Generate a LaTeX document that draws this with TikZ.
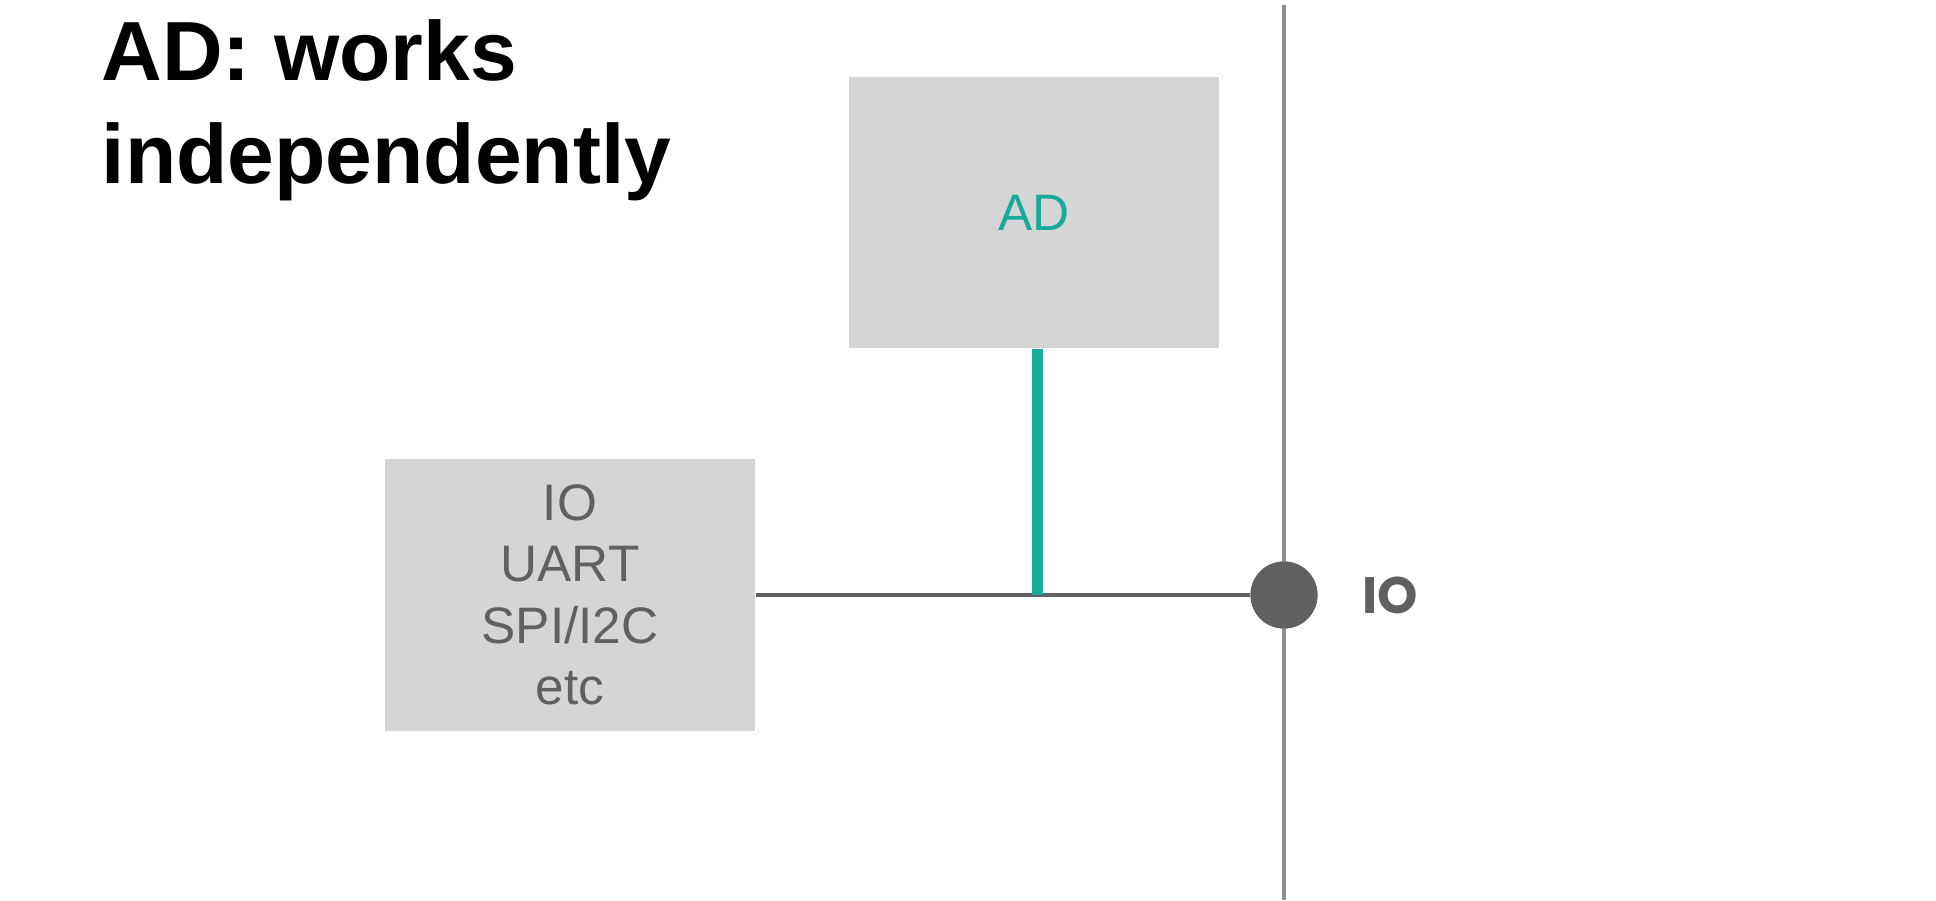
\documentclass[tikz,border=0pt]{standalone}
\usepackage{xcolor}
\usepackage{fontspec}
\setmainfont{Liberation Sans}
\newfontfamily\pinfont{Poppins}
\usetikzlibrary{positioning}
\definecolor{boxgray}{RGB}{213,213,213}
\definecolor{textgray}{RGB}{96,96,96}
\definecolor{busgray}{RGB}{143,143,143}
\definecolor{adteal}{RGB}{24,170,155}

\begin{document}
\begin{tikzpicture}[
  title/.style={anchor=base west, inner sep=0pt, font=\fontsize{23.9}{29.6}\selectfont\bfseries},
  block/.style={fill=boxgray, minimum width=3.7cm, minimum height=2.71cm, inner sep=0pt, align=center, font=\fontsize{14.6}{17.5}\selectfont},
  pin/.style={circle, fill=textgray, minimum size=0.67cm, inner sep=0pt},
  signal/.style={draw=textgray, line width=1.1pt},
  analog/.style={draw=adteal, line width=3.1pt},
  bus/.style={draw=busgray, line width=1.1pt}
]
\useasboundingbox (0,0) rectangle (19.36,9);
\node[title] (title1) at (1.01,8.19) {AD: works};
\node[title] (title2) at (1.01,7.16) {independently};
\node[block, text=adteal] (adbox) at (10.34,6.875) {AD};
\node[block, text=textgray] (iobox) at (5.70,3.05) {IO\\UART\\SPI/I2C\\etc};
\coordinate (bustop) at (12.84,8.95);
\coordinate (busbot) at (12.84,0);
\node[pin] (iopin) at (12.84,3.05) {};
\node[anchor=west, inner sep=0pt, text=textgray, font=\pinfont\bfseries\fontsize{14.6}{17}\selectfont] (iolabel) at (13.62,3.05) {IO};
\coordinate (adtop) at ([xshift=0.035cm]adbox.south);
\coordinate (tap) at (adtop |- iobox.east);
\draw[bus] (bustop) -- (busbot);
\draw[signal] (iobox.east) -- (iopin);
\draw[analog] (adtop) -- (tap);
\node[pin] at (iopin) {};
\end{tikzpicture}
\end{document}
